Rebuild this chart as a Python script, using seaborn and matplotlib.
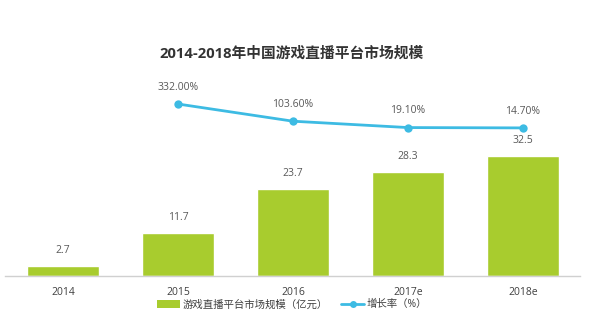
import matplotlib
matplotlib.use("Agg")
import matplotlib.pyplot as plt
import seaborn as sns
import pandas as pd
from matplotlib.patches import Patch
from matplotlib.lines import Line2D

years = ["2014", "2015", "2016", "2017e", "2018e"]
market_size = [2.7, 11.7, 23.7, 28.3, 32.5]
growth_years = ["2015", "2016", "2017e", "2018e"]
growth_rate = [332.00, 103.60, 19.10, 14.70]

title = "2014-2018年中国游戏直播平台市场规模"
bar_label = "游戏直播平台市场规模（亿元）"
line_label = "增长率（%）"

BAR_C = "#a8cc2e"
LINE_C = "#3dbbe3"
TXT_C = "#595959"

sns.set_theme(style="white")
plt.rcParams['font.family'] = ['Open Sans', 'Noto Sans CJK SC', 'DejaVu Sans']

W, H = 600, 331
fig = plt.figure(figsize=(6, 3.31), dpi=100)
ax_left, ax_right = 5, 580
ax_bottom, ax_top = 276, 90
ax = fig.add_axes([ax_left / W, 1 - ax_bottom / H, (ax_right - ax_left) / W, (ax_bottom - ax_top) / H])

XLIM = (-0.504, 4.496)

df = pd.DataFrame({"year": years, "size": market_size})
sns.barplot(data=df, x="year", y="size", order=years, color=BAR_C, width=0.625,
            saturation=1, ax=ax)
ax.set_xlim(*XLIM)
ax.set_ylim(0, 50.4)
for i, v in enumerate(market_size):
    ax.annotate(f"{v}", (i, v), xytext=(0, 7), textcoords="offset points",
                ha="center", va="bottom", fontsize=7.5, color=TXT_C)

ax.set_xlabel("")
ax.set_ylabel("")
ax.set_yticks([])
ax.tick_params(axis="x", labelsize=7.5, colors="#404040", length=0, pad=8)
for s in ["top", "left", "right"]:
    ax.spines[s].set_visible(False)
ax.spines["bottom"].set_color("#d0d0d0")
ax.spines["bottom"].set_linewidth(1)

ax2 = ax.twinx()
gx = [years.index(y) for y in growth_years]
gdf = pd.DataFrame({"x": gx, "g": growth_rate})
sns.lineplot(data=gdf, x="x", y="g", ax=ax2, color=LINE_C, linewidth=2,
             marker="o", markersize=6, markeredgewidth=0)
ax2.set_ylim(-1952, 518)
ax2.set_yticks([])
ax2.set_xlabel("")
ax2.set_ylabel("")
for s in ["top", "left", "right", "bottom"]:
    ax2.spines[s].set_visible(False)
for x, g in zip(gx, growth_rate):
    ax2.annotate(f"{g:.2f}%", (x, g), xytext=(0, 8), textcoords="offset points",
                 ha="center", va="bottom", fontsize=7.5, color=TXT_C)
ax2.set_xlim(*XLIM)

fig.text(292 / W, 1 - 54 / H, title, ha="center", va="center",
         fontsize=10.6, fontweight="bold", color="#333333")

handles = [Patch(facecolor=BAR_C, edgecolor="none"),
           Line2D([0], [0], color=LINE_C, lw=2, marker="o", markersize=5, markeredgewidth=0)]
fig.legend(handles, [bar_label, line_label], loc="center", bbox_to_anchor=(292 / W, 1 - 305 / H),
           ncol=2, frameon=False, fontsize=7.5, handlelength=2.2, handleheight=0.9,
           columnspacing=1.3, handletextpad=0.2, labelcolor="#404040")

fig.savefig("out.png", dpi=100, facecolor="white")
